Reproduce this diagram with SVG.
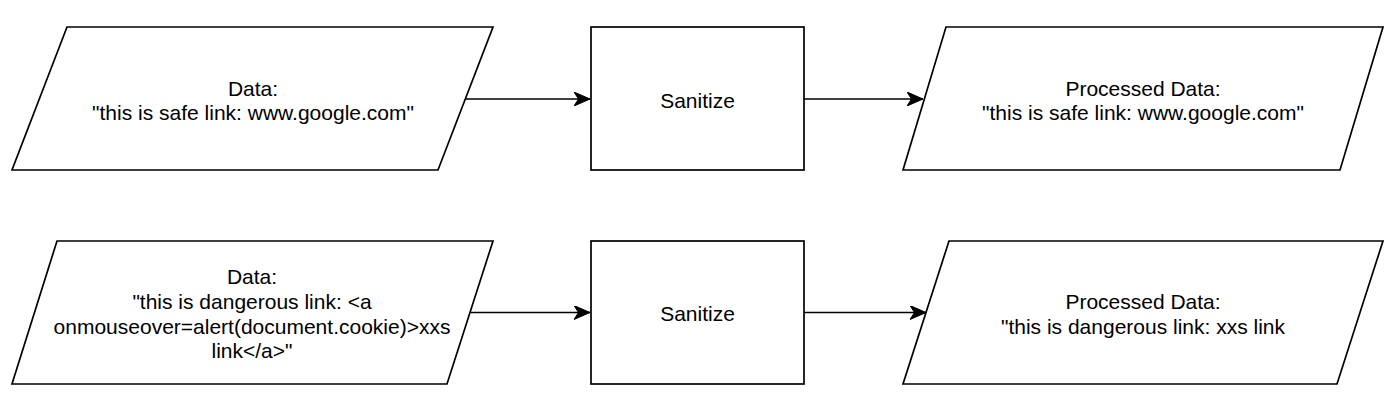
<svg xmlns="http://www.w3.org/2000/svg" width="1400" height="417" viewBox="0 0 1400 417">
  <style>
    .shape { fill: #ffffff; stroke: #000000; stroke-width: 1.7; stroke-linejoin: miter; }
    .label { font-family: "Liberation Sans", Arial, Helvetica, sans-serif; font-size: 21px; fill: #000000; text-anchor: middle; }
    .edge { fill: none; stroke: #000000; stroke-width: 1.7; marker-end: url(#arrow); }
  </style>
  <defs>
    <marker id="arrow" markerUnits="userSpaceOnUse" viewBox="0 0 16 14" refX="16" refY="7" markerWidth="16" markerHeight="14" orient="auto">
      <path d="M0,0 L16,7 L0,14 L4.5,7 Z" fill="#000000" stroke="#000000" stroke-width="1"/>
    </marker>
  </defs>
  <rect width="1400" height="417" fill="#ffffff"/>

  <g id="connectors">
    <path class="edge" d="M465.5,99 L590,99"/>
    <path class="edge" d="M804,99 L923,99"/>
    <path class="edge" d="M471,312.5 L590,312.5"/>
    <path class="edge" d="M804,312.5 L926,312.5"/>
  </g>

  <g id="data-safe">
    <polygon class="shape" points="67,27 493,27 438,170 12,170"/>
    <text class="label" x="253" y="95.5">Data:</text>
    <text class="label" x="253" y="120.2">"this is safe link: www.google.com"</text>
  </g>

  <g id="sanitize-safe">
    <rect class="shape" x="591" y="27" width="213" height="143"/>
    <text class="label" x="697.5" y="107.5">Sanitize</text>
  </g>

  <g id="processed-safe">
    <polygon class="shape" points="946,27 1383,27 1340,170 903,170"/>
    <text class="label" x="1143" y="95.5">Processed Data:</text>
    <text class="label" x="1143" y="120.2">"this is safe link: www.google.com"</text>
  </g>

  <g id="data-dangerous">
    <polygon class="shape" points="57,241 493,241 447,384 12,384"/>
    <text class="label" x="252" y="284.3">Data:</text>
    <text class="label" x="252" y="309">"this is dangerous link: &lt;a</text>
    <text class="label" x="252" y="333.7">onmouseover=alert(document.cookie)&gt;xxs</text>
    <text class="label" x="252" y="358.4">link&lt;/a&gt;"</text>
  </g>

  <g id="sanitize-dangerous">
    <rect class="shape" x="591" y="241" width="213" height="143"/>
    <text class="label" x="697.5" y="321">Sanitize</text>
  </g>

  <g id="processed-dangerous">
    <polygon class="shape" points="949,241 1383,241 1337,384 903,384"/>
    <text class="label" x="1143" y="309">Processed Data:</text>
    <text class="label" x="1143" y="333.7">"this is dangerous link: xxs link</text>
  </g>
</svg>
